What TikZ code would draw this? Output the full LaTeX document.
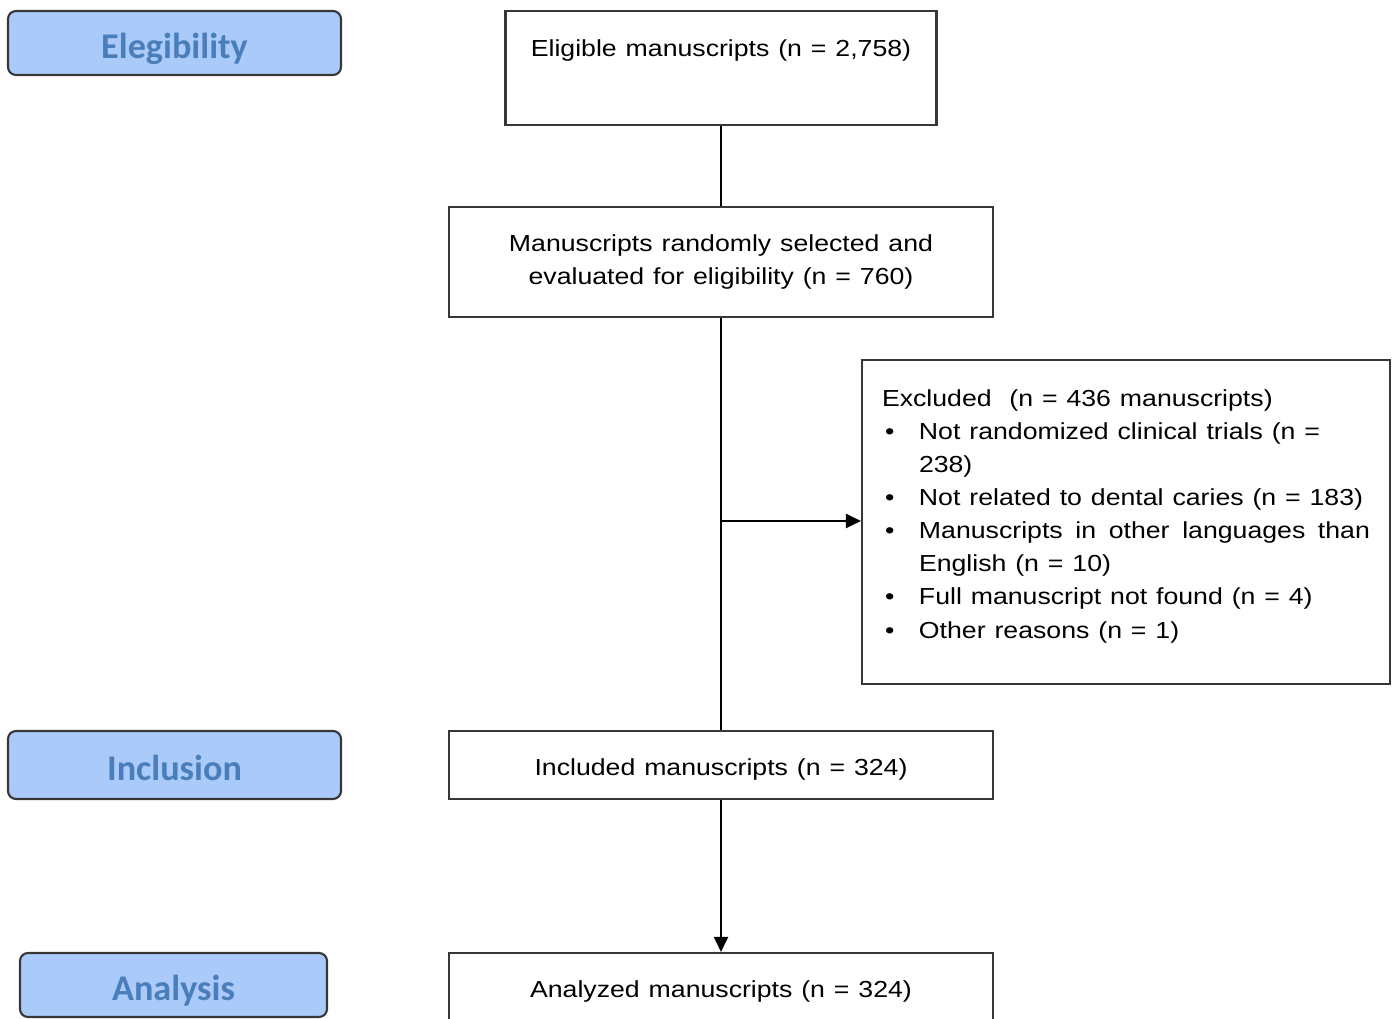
\documentclass[tikz,border=0pt]{standalone}
\usepackage{fontspec}
\setmainfont{Liberation Sans}
\newfontfamily\boxfont[FakeStretch=1.15,WordSpace=1.2]{Liberation Sans}
\newfontfamily\stagefont{Carlito}
\usetikzlibrary{arrows.meta}
\usepackage{xcolor}
\definecolor{stagefill}{RGB}{170,202,250}
\definecolor{stagetext}{RGB}{74,126,187}
\definecolor{edgegray}{RGB}{55,55,55}
\newcommand{\bul}{\par\hangindent=0.37cm\hangafter=1\noindent\makebox[0.37cm][l]{\hspace{0.03cm}\textbullet}}

\begin{document}
\begin{tikzpicture}[>={Triangle[length=1.5mm,width=1.4mm]},line width=0.6pt,
  stage/.style={draw=edgegray,fill=stagefill,rounded corners=0.08cm,minimum height=0.64cm,
    text height=0.31cm,text depth=0cm,
    font=\stagefont\fontsize{10.3}{12}\selectfont\bfseries,text=stagetext},
  flowbox/.style={draw=edgegray,align=center,minimum width=5.44cm,
    font=\boxfont\fontsize{6.6}{9.4}\selectfont}]
\useasboundingbox (0,0) rectangle (13.93,-10.19);
\node[stage,minimum width=3.33cm] (stgelig) at (1.745,-0.43) {Elegibility};
\node[stage,minimum width=3.33cm,minimum height=0.68cm] (stgincl) at (1.745,-7.65) {Inclusion};
\node[stage,minimum width=3.07cm] (stganal) at (1.735,-9.85) {Analysis};
\node[flowbox,minimum width=4.31cm,minimum height=1.14cm] (elig) at (7.21,-0.68)
  {Eligible manuscripts (n = 2,758)\\[0.07cm]\mbox{}};
\node[flowbox,minimum height=1.10cm] (rand) at (7.21,-2.62)
  {Manuscripts randomly selected and\\evaluated for eligibility (n = 760)};
\node[flowbox,align=justify,text width=4.88cm,minimum width=5.28cm,minimum height=3.24cm,
  inner xsep=0.2cm] (excl) at (11.26,-5.22)
  {Excluded\ \ (n = 436 manuscripts)
  \bul Not randomized clinical trials (n =\newline 238)
  \bul Not related to dental caries (n = 183)
  \bul Manuscripts in other languages than\linebreak English (n = 10)
  \bul Full manuscript not found (n = 4)
  \bul Other reasons (n = 1)\par\vspace{-0.17cm}\noindent\mbox{}};
\node[flowbox,minimum height=0.68cm,text height=0.2cm,text depth=0cm] (incl) at (7.21,-7.65)
  {Included manuscripts (n = 324)};
\node[flowbox,minimum height=0.76cm] (anal) at (7.21,-9.91) {Analyzed manuscripts (n = 324)};
\coordinate (fork) at (7.21,-5.21);
\draw (elig) -- (rand);
\draw (rand) -- (incl);
\draw[->] (fork) -- (fork -| excl.west);
\draw[->] (incl) -- (anal);
\end{tikzpicture}
\end{document}
